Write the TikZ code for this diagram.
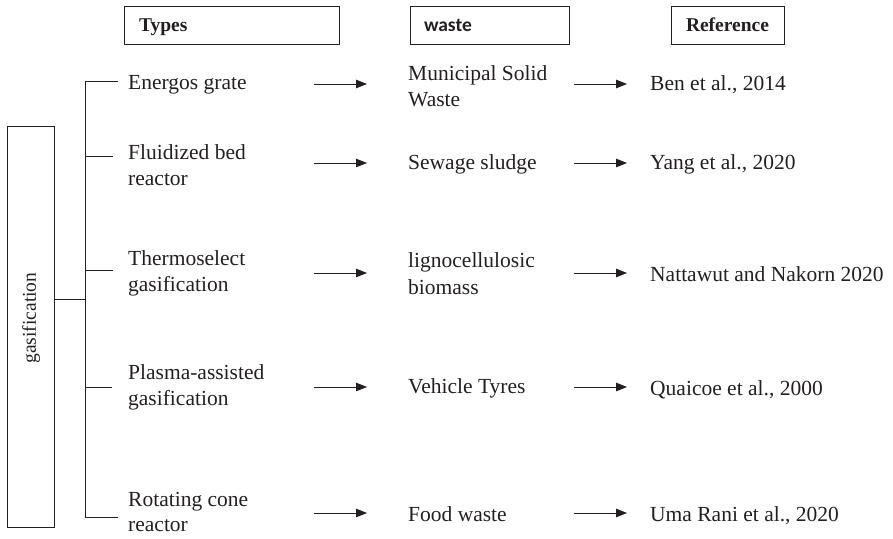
\documentclass[tikz,border=0pt]{standalone}
\usepackage{fontspec}
\setmainfont{Liberation Serif}
\newfontfamily\hdrsans{Carlito}
\usetikzlibrary{arrows.meta}
\definecolor{ink}{HTML}{231F20}
\begin{document}
\begin{tikzpicture}[x=1pt,y=-1pt,
  every node/.style={inner sep=0pt,text=ink},
  hdrbox/.style={draw=ink,line width=0.9pt,minimum height=38pt,text height=15pt,text depth=2pt,
                 font=\fontsize{19.5}{23}\selectfont\bfseries},
  item/.style={anchor=west,align=left,font=\fontsize{21.5}{26.5}\selectfont},
  link/.style={draw=ink,line width=0.8pt},
  flow/.style={draw=ink,line width=0.8pt,-{Triangle[length=11pt,width=8.5pt]}}]
\useasboundingbox (0,0) rectangle (893,538);

% column headers
\node[hdrbox,minimum width=215pt,text width=185pt,align=left] (htypes) at (231.5,25) {Types};
\node[hdrbox,minimum width=159pt,text width=131pt,align=left,font=\fontsize{19.5}{23}\hdrsans\bfseries] (hwaste) at (489.5,25) {waste};
\node[hdrbox,minimum width=113pt] (href) at (727.5,25) {Reference};

% root box
\node[draw=ink,line width=0.9pt,minimum width=47pt,minimum height=401pt] (root) at (30.5,326.5) {};
\node[rotate=90,font=\fontsize{19.5}{23}\selectfont] (rootlbl) at (31,318) {gasification};

% gasification types
\node[item] (t1) at (128,84.5)  {Energos grate};
\node[item] (t2) at (128,165)   {Fluidized bed\\reactor};
\node[item] (t3) at (128,273.5) {Thermoselect\\gasification};
\node[item] (t4) at (128,387.5) {Plasma-assisted\\gasification};
\node[item,font=\fontsize{21.5}{25.5}\selectfont] (t5) at (128,512) {Rotating cone\\reactor};

% waste streams
\node[item] (w1) at (408,86)    {Municipal Solid\\Waste};
\node[item] (w2) at (408,164.5) {Sewage sludge};
\node[item] (w3) at (408,273.5) {lignocellulosic\\biomass};
\node[item] (w4) at (408,388.5) {Vehicle Tyres};
\node[item] (w5) at (408,514.5) {Food waste};

% references
\node[item] (r1) at (650,84.5)  {Ben et al., 2014};
\node[item] (r2) at (650,164.5) {Yang et al., 2020};
\node[item] (r3) at (650,274.5) {Nattawut and Nakorn 2020};
\node[item] (r4) at (650,389.5) {Quaicoe et al., 2000};
\node[item] (r5) at (650,515.5) {Uma Rani et al., 2020};

% tree from the root box to each type
\coordinate (trunk) at (85,299);
\coordinate (top) at (85,81);
\coordinate (bot) at (85,517);
\draw[link] (root.east |- trunk) -- (trunk);
\draw[link] (top) -- (bot);
\coordinate (b1) at (118,81);
\coordinate (b2) at (113,156);
\coordinate (b3) at (113,270);
\coordinate (b4) at (112,387);
\coordinate (b5) at (118,517);
\foreach \i in {1,...,5}{\draw[link] (85,0 |- b\i) -- (b\i);}

% arrows: type -> waste -> reference
\foreach \i/\y in {1/84,2/163,3/273,4/387,5/513}{
  \coordinate (p\i) at (314,\y);
  \coordinate (q\i) at (367,\y);
  \coordinate (m\i) at (574,\y);
  \coordinate (n\i) at (627,\y);
  \draw[flow] (p\i) -- (q\i);
  \draw[flow] (m\i) -- (n\i);
}
\end{tikzpicture}
\end{document}
